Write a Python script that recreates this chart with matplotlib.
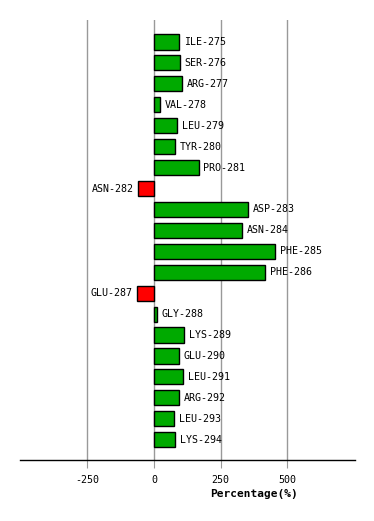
import matplotlib
matplotlib.use("Agg")
import matplotlib.pyplot as plt

residues = ["ILE-275", "SER-276", "ARG-277", "VAL-278", "LEU-279", "TYR-280",
            "PRO-281", "ASN-282", "ASP-283", "ASN-284", "PHE-285", "PHE-286",
            "GLU-287", "GLY-288", "LYS-289", "GLU-290", "LEU-291", "ARG-292",
            "LEU-293", "LYS-294"]
percent = [95, 99, 107, 24, 88, 80, 169, -60, 355, 332, 456, 417,
           -64, 13, 114, 95, 110, 95, 76, 80]
xticks = [-250, 0, 250, 500]

fig = plt.figure(figsize=(3.74, 5.21), dpi=100)
ax = fig.add_axes([20 / 374, 61 / 521, 335 / 374, 440 / 521])

pos = list(range(len(residues)))
colors = ["#00aa00" if v >= 0 else "#ff0000" for v in percent]
ax.barh(pos, percent, height=0.72, color=colors, edgecolor="black", linewidth=1, zorder=3)

# residue labels beside each bar
for y, v, name in zip(pos, percent, residues):
    if v >= 0:
        ax.text(v + 17, y, name, ha="left", va="center", fontsize=7.2,
                family="DejaVu Sans Mono", zorder=4)
    else:
        ax.text(v - 17, y, name, ha="right", va="center", fontsize=7.2,
                family="DejaVu Sans Mono", zorder=4)

ax.set_xlim(-503, 755)
ax.set_ylim(len(residues) - 1 + 0.97, -1.05)
ax.set_xticks(xticks)
ax.set_xticklabels([str(t) for t in xticks], family="DejaVu Sans Mono", fontsize=7.2)
ax.set_yticks([])
ax.grid(True, axis="x", color="#999999", linewidth=1, zorder=0)
ax.tick_params(axis="x", length=6, color="#999999", pad=5)
for s in ["left", "right", "top"]:
    ax.spines[s].set_visible(False)
ax.spines["bottom"].set_linewidth(1)

fig.text(254 / 374, (521 - 494) / 521, "Percentage(%)", ha="center", va="center",
         fontsize=8, fontweight="bold", family="DejaVu Sans Mono")

fig.savefig("out.png", dpi=100)
